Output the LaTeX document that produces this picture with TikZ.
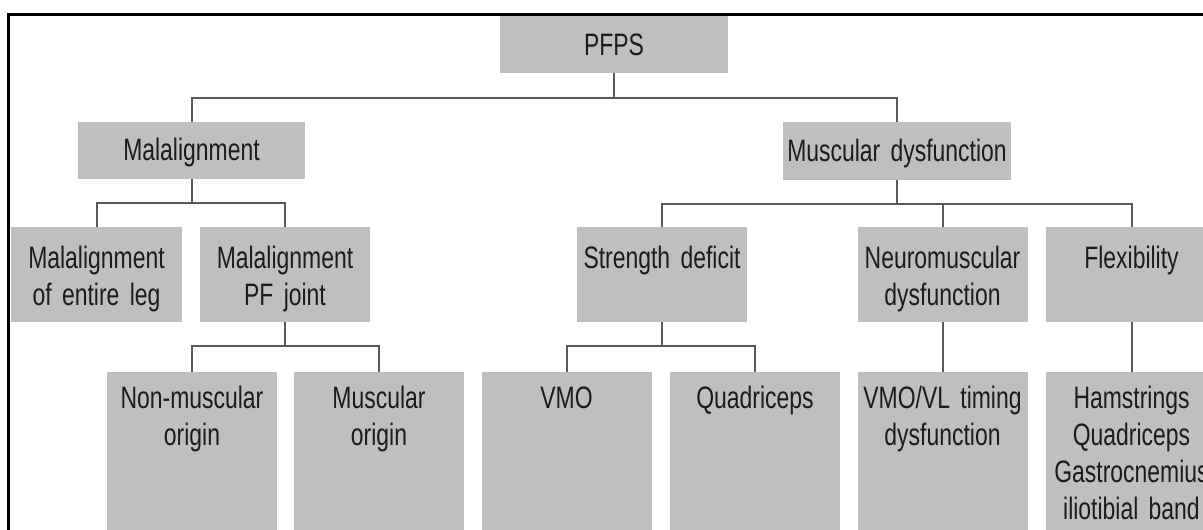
\documentclass[tikz,border=0pt]{standalone}
\usepackage{fontspec}
\setmainfont[FakeStretch=0.74]{Liberation Sans}
\definecolor{boxgray}{RGB}{191,191,191}
\definecolor{txtgray}{RGB}{28,28,28}
\definecolor{linegray}{RGB}{90,90,90}
\begin{document}
\begin{tikzpicture}[x=1pt,y=-1pt,
  box/.style={fill=boxgray, draw=none, inner sep=0pt, anchor=north, align=center,
    text=txtgray, font=\fontsize{31}{37}\selectfont},
  top1/.style={box, text width=228pt},
  lvl2/.style={box, text width=170pt, text height=41pt, text depth=54pt},
  lvl3/.style={box, text width=170pt, text height=36pt, text depth=200pt},
  conn/.style={draw=linegray, line width=2pt}]
\clip (0,0) rectangle (1203,530);
\fill[white] (0,0) rectangle (1203,530);
\draw[line width=3pt] (8.5,14) rectangle (1230,570);
% level 0
\node[top1, text height=39.5pt, text depth=18pt] (pfps) at (614,15.5) {PFPS};
% level 1
\node[top1, text width=227pt, text height=38pt, text depth=19pt] (mal) at (191.5,122) {Malalignment};
\node[top1, text height=39pt, text depth=19pt] (musc) at (897,122) {Muscular dysfunction};
% level 2
\node[lvl2, text width=171pt] (leg) at (96.5,227) {Malalignment\\of entire leg};
\node[lvl2] (pfj) at (285,227) {Malalignment\\PF joint};
\node[lvl2] (str) at (662,227) {Strength deficit};
\node[lvl2] (neuro) at (942.5,227) {Neuromuscular\\dysfunction};
\node[lvl2, text width=171pt] (flex) at (1131.5,227) {Flexibility};
% level 3
\node[lvl3] (nonm) at (192,372) {Non-muscular\\origin};
\node[lvl3] (muso) at (379,372) {Muscular\\origin};
\node[lvl3] (vmo) at (566.5,372) {VMO};
\node[lvl3] (quad) at (755,372) {Quadriceps};
\node[lvl3] (vmovl) at (942.5,372) {VMO/VL timing\\dysfunction};
\node[lvl3, text width=171pt] (ham) at (1131.5,372) {Hamstrings\\Quadriceps\\Gastrocnemius\\iliotibial band};
% connectors
\draw[conn] (pfps.south) -- ++(0,25) -| (mal.north);
\draw[conn] (pfps.south) -- ++(0,25) -| (musc.north);
\draw[conn] (mal.south) -- ++(0,24) -| (leg.north);
\draw[conn] (mal.south) -- ++(0,24) -| (pfj.north);
\draw[conn] (musc.south) -- ++(0,24) -| (str.north);
\draw[conn] (musc.south) -- ++(0,24) -| (neuro.north);
\draw[conn] (musc.south) -- ++(0,24) -| (flex.north);
\draw[conn] (pfj.south) -- ++(0,24) -| (nonm.north);
\draw[conn] (pfj.south) -- ++(0,24) -| (muso.north);
\draw[conn] (str.south) -- ++(0,24) -| (vmo.north);
\draw[conn] (str.south) -- ++(0,24) -| (quad.north);
\draw[conn] (neuro.south) -- (vmovl.north);
\draw[conn] (flex.south) -- (ham.north);
\end{tikzpicture}
\end{document}
